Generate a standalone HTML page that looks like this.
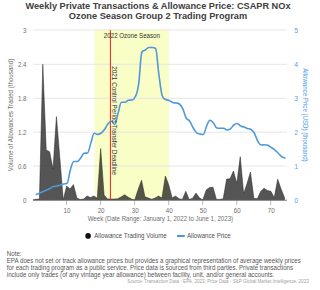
<!DOCTYPE html>
<html><head><meta charset="utf-8"><style>
html,body{margin:0;padding:0;background:#fff;width:320px;height:290px;overflow:hidden}
svg{display:block;font-family:"Liberation Sans",sans-serif}
</style></head><body>
<svg width="320" height="290" viewBox="0 0 320 290">
<rect width="320" height="290" fill="#fff"/>
<g font-weight="bold"><text transform="translate(158.00 9.00)" font-size="9.2" fill="#404040" text-anchor="middle">Weekly Private Transactions &amp; Allowance Price: CSAPR NOx</text>
<text transform="translate(158.00 19.40)" font-size="9.25" fill="#404040" text-anchor="middle">Ozone Season Group 2 Trading Program</text>
</g><rect x="94.6" y="29.5" width="74.4" height="170.5" fill="#f9fdc6"/>
<g stroke="#e6e6e6" stroke-width="1"><line x1="33" x2="287" y1="29.95" y2="29.95"/><line x1="33" x2="287" y1="64.3" y2="64.3"/><line x1="33" x2="287" y1="98.25" y2="98.25"/><line x1="33" x2="287" y1="132.2" y2="132.2"/><line x1="33" x2="287" y1="166" y2="166"/></g>
<g stroke="#bbb" stroke-width="1"><line x1="66.54" x2="66.54" y1="200" y2="205"/><line x1="100.58" x2="100.58" y1="200" y2="205"/><line x1="134.62" x2="134.62" y1="200" y2="205"/><line x1="168.66" x2="168.66" y1="200" y2="205"/><line x1="202.70" x2="202.70" y1="200" y2="205"/><line x1="236.74" x2="236.74" y1="200" y2="205"/><line x1="270.78" x2="270.78" y1="200" y2="205"/></g>
<path d="M33 200 L33.00 200.00 L36.00 199.30 L39.41 199.00 L42.81 64.30 L46.22 150.00 L49.62 151.70 L53.02 169.00 L56.43 116.60 L59.83 158.00 L63.24 199.90 L66.64 186.00 L70.04 189.00 L73.45 184.60 L76.85 198.00 L80.26 199.50 L83.66 199.00 L87.06 196.00 L90.47 197.50 L93.87 196.00 L97.28 198.30 L100.68 148.50 L104.08 195.00 L107.49 199.00 L110.89 199.00 L114.30 199.00 L117.70 198.75 L121.10 197.00 L124.51 194.75 L127.91 197.00 L131.32 199.00 L134.72 200.00 L138.12 189.50 L141.53 180.30 L144.93 196.80 L148.34 198.00 L151.74 199.30 L155.14 198.00 L158.55 196.00 L161.95 198.10 L165.36 176.00 L168.76 185.00 L172.16 198.00 L175.57 196.00 L178.97 198.75 L182.38 199.40 L185.78 191.25 L189.18 199.50 L192.59 198.30 L195.99 193.10 L199.40 197.80 L202.80 199.90 L206.20 190.00 L209.61 187.40 L213.01 187.30 L216.42 199.40 L219.82 199.40 L223.22 198.75 L226.63 179.00 L230.03 178.80 L233.44 171.00 L236.84 183.20 L240.24 156.60 L243.65 193.50 L247.05 183.50 L250.46 172.00 L253.86 198.30 L257.26 198.80 L260.67 191.50 L264.07 188.20 L267.48 190.60 L270.88 191.30 L274.28 197.60 L277.69 179.20 L281.09 189.10 L284.50 197.60 L284.50 200 Z" fill="#1c1c1c" fill-opacity="0.75" stroke="#262626" stroke-width="0.5" stroke-linejoin="round"/>
<line x1="33" x2="287" y1="200.2" y2="200.2" stroke="#777" stroke-width="1"/>
<line x1="110.4" x2="110.4" y1="30" y2="200" stroke="#f52020" stroke-width="1"/>
<path d="M36.40 194.40 C36.40 194.40 38.45 193.58 39.81 193.00 C41.17 192.42 41.85 192.10 43.21 191.50 C44.57 190.90 45.25 190.60 46.62 190.00 C47.98 189.40 48.66 189.18 50.02 188.50 C51.38 187.82 52.06 187.10 53.42 186.60 C54.79 186.10 55.47 186.28 56.83 186.00 C58.19 185.72 58.87 185.60 60.23 185.20 C61.59 184.80 62.27 184.38 63.64 184.00 C65.00 183.62 65.68 184.00 67.04 183.30 C68.40 182.60 69.08 173.86 70.44 169.50 C71.81 165.14 72.49 161.50 73.85 161.50 C75.21 161.50 75.89 161.50 77.25 161.50 C78.61 161.50 79.29 159.64 80.66 158.00 C82.02 156.36 82.70 153.60 84.06 153.30 C85.42 153.00 86.10 153.30 87.46 153.00 C88.83 152.70 89.51 146.94 90.87 143.00 C92.23 139.06 92.91 133.30 94.27 133.30 C95.63 133.30 96.31 134.40 97.68 134.40 C99.04 134.40 99.72 133.98 101.08 133.00 C102.44 132.02 103.12 131.30 104.48 129.50 C105.85 127.70 106.53 125.64 107.89 124.00 C109.25 122.36 109.93 121.30 111.29 121.30 C112.65 121.30 113.33 124.50 114.70 124.50 C116.06 124.50 116.74 117.46 118.10 113.00 C119.46 108.54 120.14 102.20 121.50 102.20 C122.87 102.20 123.55 102.20 124.91 102.20 C126.27 102.20 126.95 100.40 128.31 100.20 C129.67 100.00 130.35 100.20 131.72 100.00 C133.08 99.80 133.76 100.00 135.12 97.00 C136.48 94.00 137.16 94.00 138.52 85.00 C139.89 76.00 140.57 54.00 141.93 52.00 C143.29 50.00 143.97 50.90 145.33 50.00 C146.69 49.10 147.37 47.50 148.74 47.50 C150.10 47.50 150.78 47.50 152.14 47.50 C153.50 47.50 154.18 47.50 155.54 48.50 C156.91 49.50 157.59 65.50 158.95 75.00 C160.31 84.50 160.99 92.50 162.35 96.00 C163.71 99.50 164.39 98.60 165.76 99.50 C167.12 100.40 167.80 99.90 169.16 100.50 C170.52 101.10 171.20 102.00 172.56 102.50 C173.93 103.00 174.61 102.70 175.97 103.00 C177.33 103.30 178.01 103.00 179.37 104.00 C180.73 105.00 181.41 105.80 182.78 108.60 C184.14 111.40 184.82 115.52 186.18 118.00 C187.54 120.48 188.22 119.10 189.58 121.00 C190.95 122.90 191.63 125.20 192.99 127.50 C194.35 129.80 195.03 131.20 196.39 132.50 C197.75 133.80 198.43 133.60 199.80 134.00 C201.16 134.40 201.84 134.50 203.20 134.50 C204.56 134.50 205.24 128.84 206.60 126.00 C207.97 123.16 208.65 120.30 210.01 120.30 C211.37 120.30 212.05 121.46 213.41 123.00 C214.77 124.54 215.45 127.70 216.82 128.00 C218.18 128.30 218.86 128.30 220.22 128.30 C221.58 128.30 222.26 128.30 223.62 128.30 C224.99 128.30 225.67 130.00 227.03 130.00 C228.39 130.00 229.07 129.80 230.43 128.80 C231.79 127.80 232.47 126.06 233.84 125.00 C235.20 123.94 235.88 123.50 237.24 123.50 C238.60 123.50 239.28 125.30 240.64 126.00 C242.01 126.70 242.69 126.50 244.05 127.00 C245.41 127.50 246.09 128.00 247.45 128.50 C248.81 129.00 249.49 128.60 250.86 129.50 C252.22 130.40 252.90 130.70 254.26 133.00 C255.62 135.30 256.30 138.60 257.66 141.00 C259.03 143.40 259.71 145.00 261.07 145.00 C262.43 145.00 263.11 144.80 264.47 144.80 C265.83 144.80 266.51 144.80 267.88 145.30 C269.24 145.80 269.92 146.60 271.28 147.50 C272.64 148.40 273.32 148.70 274.68 149.80 C276.05 150.90 276.73 151.68 278.09 153.00 C279.45 154.32 280.13 155.40 281.49 156.40 C282.85 157.40 284.90 158.00 284.90 158.00" fill="none" stroke="#5098da" stroke-width="1.6" stroke-linejoin="round" stroke-linecap="round"/>
<text transform="translate(26.50 32.70) scale(1 1.150)" font-size="6.2" fill="#6e6e6e" text-anchor="end">3</text>
<text transform="translate(26.50 66.70) scale(1 1.150)" font-size="6.2" fill="#6e6e6e" text-anchor="end">2.4</text>
<text transform="translate(26.50 100.70) scale(1 1.150)" font-size="6.2" fill="#6e6e6e" text-anchor="end">1.8</text>
<text transform="translate(26.50 134.70) scale(1 1.150)" font-size="6.2" fill="#6e6e6e" text-anchor="end">1.2</text>
<text transform="translate(26.50 168.70) scale(1 1.150)" font-size="6.2" fill="#6e6e6e" text-anchor="end">0.6</text>
<text transform="translate(26.50 202.70) scale(1 1.150)" font-size="6.2" fill="#6e6e6e" text-anchor="end">0</text>
<text transform="translate(294.60 32.70) scale(1 1.150)" font-size="6.2" fill="#4a9ae8" text-anchor="start">5</text>
<text transform="translate(294.60 66.70) scale(1 1.150)" font-size="6.2" fill="#4a9ae8" text-anchor="start">4</text>
<text transform="translate(294.60 100.70) scale(1 1.150)" font-size="6.2" fill="#4a9ae8" text-anchor="start">3</text>
<text transform="translate(294.60 134.70) scale(1 1.150)" font-size="6.2" fill="#4a9ae8" text-anchor="start">2</text>
<text transform="translate(294.60 168.70) scale(1 1.150)" font-size="6.2" fill="#4a9ae8" text-anchor="start">1</text>
<text transform="translate(294.60 202.70) scale(1 1.150)" font-size="6.2" fill="#4a9ae8" text-anchor="start">0</text>
<text transform="translate(67.04 212.60) scale(1 1.150)" font-size="6.2" fill="#6e6e6e" text-anchor="middle">10</text>
<text transform="translate(101.08 212.60) scale(1 1.150)" font-size="6.2" fill="#6e6e6e" text-anchor="middle">20</text>
<text transform="translate(135.12 212.60) scale(1 1.150)" font-size="6.2" fill="#6e6e6e" text-anchor="middle">30</text>
<text transform="translate(169.16 212.60) scale(1 1.150)" font-size="6.2" fill="#6e6e6e" text-anchor="middle">40</text>
<text transform="translate(203.20 212.60) scale(1 1.150)" font-size="6.2" fill="#6e6e6e" text-anchor="middle">50</text>
<text transform="translate(237.24 212.60) scale(1 1.150)" font-size="6.2" fill="#6e6e6e" text-anchor="middle">60</text>
<text transform="translate(271.28 212.60) scale(1 1.150)" font-size="6.2" fill="#6e6e6e" text-anchor="middle">70</text>
<text transform="translate(160.40 221.40) scale(1 1.150)" font-size="6.15" fill="#6e6e6e" text-anchor="middle">Week (Date Range: January 1, 2022 to June 1, 2023)</text>
<text transform="translate(12.90 115.00) rotate(-90) scale(1 1.150)" font-size="6.2" fill="#6e6e6e" text-anchor="middle">Volume of Allowances Traded (thousand)</text>
<text transform="translate(302.80 114.90) rotate(90) scale(1 1.150)" font-size="6.15" fill="#4a9ae8" text-anchor="middle">Allowance Price (USD) (thousand)</text>
<text transform="translate(131.90 38.00) scale(1 1.150)" font-size="6.17" fill="#333" text-anchor="middle">2022 Ozone Season</text>
<text transform="translate(112.40 120.60) rotate(90) scale(1 1.150)" font-size="6.4" fill="#333" text-anchor="middle">2021 Control Period Transfer Deadline</text>
<circle cx="88.1" cy="235.9" r="2.8" fill="#111"/>
<text transform="translate(94.25 238.00) scale(1 1.150)" font-size="6.17" fill="#505050" text-anchor="start">Allowance Trading Volume</text>
<line x1="177" x2="184.8" y1="236" y2="236" stroke="#5098da" stroke-width="2"/>
<text transform="translate(187.00 238.00) scale(1 1.150)" font-size="6.15" fill="#505050" text-anchor="start">Allowance Price</text>
<text transform="translate(6.75 255.50) scale(1 1.150)" font-size="6.2" fill="#585858" text-anchor="start">Note:</text>
<text transform="translate(6.75 263.00) scale(1 1.150)" font-size="6.18" fill="#585858" text-anchor="start">EPA does not set or track allowance prices but provides a graphical representation of average weekly prices</text>
<text transform="translate(6.75 270.00) scale(1 1.150)" font-size="6.18" fill="#585858" text-anchor="start">for each trading program as a public service. Price data is sourced from third parties. Private transactions</text>
<text transform="translate(6.75 277.00) scale(1 1.150)" font-size="6.2" fill="#585858" text-anchor="start">include only trades (of any vintage year allowance) between facility, unit, and/or general accounts.</text>
<text transform="translate(308.75 283.40) scale(1 1.150)" font-size="4.6" fill="#a0a0a0" text-anchor="end">Source: Transaction Data - EPA, 2023; Price Data - S&amp;P Global Market Intelligence, 2023</text>
</svg>
</body></html>
